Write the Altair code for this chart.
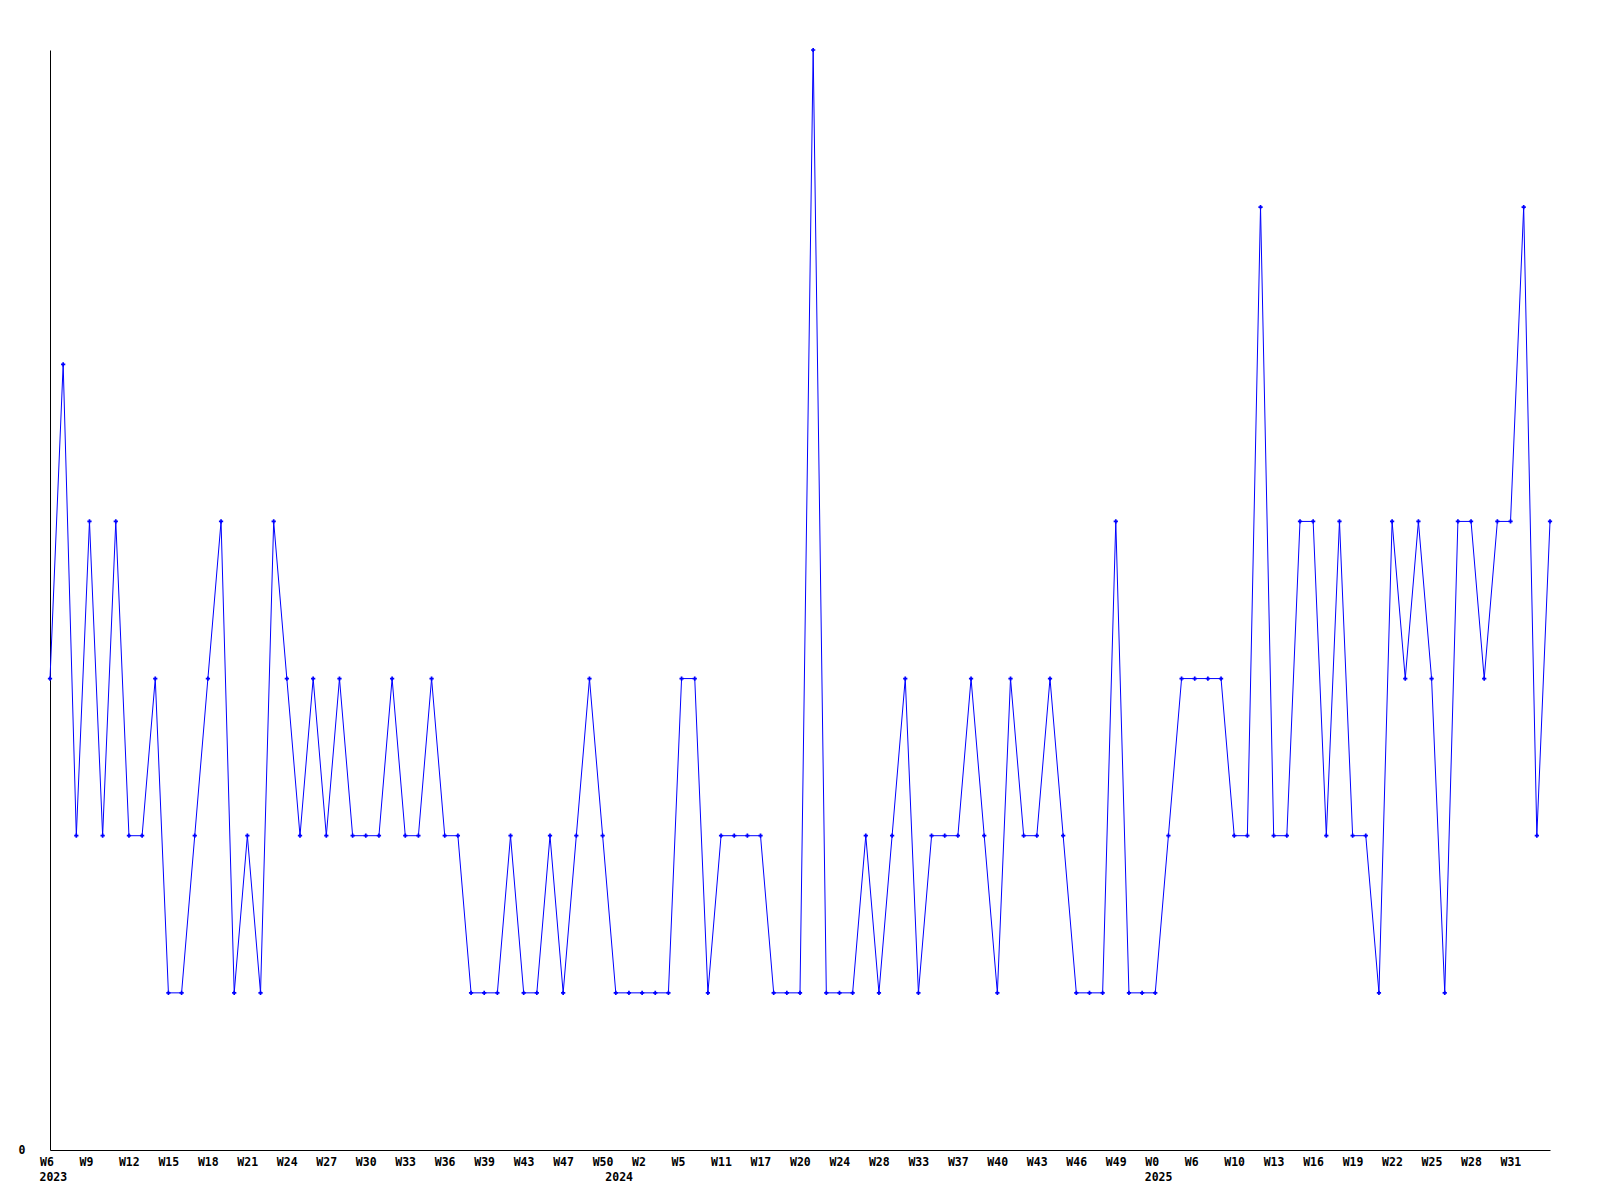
import altair as alt
import pandas as pd

# Series values, one per week shown on the axis (115 points)
values = [
    3, 5, 2, 4, 2, 4, 2, 2, 3, 1,
    1, 2, 3, 4, 1, 2, 1, 4, 3, 2,
    3, 2, 3, 2, 2, 2, 3, 2, 2, 3,
    2, 2, 1, 1, 1, 2, 1, 1, 2, 1,
    2, 3, 2, 1, 1, 1, 1, 1, 3, 3,
    1, 2, 2, 2, 2, 1, 1, 1, 7, 1,
    1, 1, 2, 1, 2, 3, 1, 2, 2, 2,
    3, 2, 1, 3, 2, 2, 3, 2, 1, 1,
    1, 4, 1, 1, 1, 2, 3, 3, 3, 3,
    2, 2, 6, 2, 2, 4, 4, 2, 4, 2,
    2, 1, 4, 3, 4, 3, 1, 4, 4, 3,
    4, 4, 6, 2, 4,
]

# Tick labels, one every third point
tick_labels = [
    "W6", "W9", "W12", "W15", "W18", "W21", "W24", "W27", "W30", "W33",
    "W36", "W39", "W43", "W47", "W50", "W2", "W5", "W11", "W17", "W20",
    "W24", "W28", "W33", "W37", "W40", "W43", "W46", "W49", "W0", "W6",
    "W10", "W13", "W16", "W19", "W22", "W25", "W28", "W31",
]
tick_step = 3

# Year labels and the point index where each year starts
year_labels = ["2023", "2024", "2025"]
year_index = [0, 43, 84]

FONT = "DejaVu Sans Mono"
W, H = 1500, 1100

df = pd.DataFrame({"idx": list(range(len(values))), "value": values})
years = pd.DataFrame({"idx": year_index, "year": year_labels})

label_array = "[" + ",".join("'" + t + "'" for t in tick_labels) + "]"
label_expr = label_array + "[round(datum.value / %d)]" % tick_step

x_scale = alt.Scale(domain=[0, len(values) - 1], nice=False, zero=False)
y_scale = alt.Scale(domain=[0, 7], nice=False, zero=True)

x_axis = alt.Axis(
    values=list(range(0, len(tick_labels) * tick_step, tick_step)),
    labelExpr=label_expr,
    title=None,
    grid=False,
    ticks=False,
    tickSize=0,
    domainColor="black",
    domainWidth=1,
    labelFont=FONT,
    labelFontWeight="bold",
    labelFontSize=11.5,
    labelColor="black",
    labelAlign="left",
    labelOffset=-10.5,
    labelPadding=6,
    labelFlush=False,
    labelOverlap=False,
    labelBound=False,
)
y_axis = alt.Axis(
    values=[0],
    format="d",
    title=None,
    grid=False,
    ticks=False,
    tickSize=0,
    domainColor="black",
    domainWidth=1,
    labelFont=FONT,
    labelFontWeight="bold",
    labelFontSize=11.5,
    labelColor="black",
    labelPadding=25,
    labelOverlap=False,
)

base = alt.Chart(df)

line = base.mark_line(color="#0000FF", strokeWidth=1, clip=False).encode(
    x=alt.X("idx:Q", scale=x_scale, axis=x_axis),
    y=alt.Y("value:Q", scale=y_scale, axis=y_axis),
)
pts = base.mark_point(
    shape="cross", filled=True, color="#0000FF", size=18, opacity=1
).encode(
    x=alt.X("idx:Q", scale=x_scale),
    y=alt.Y("value:Q", scale=y_scale),
)
year_text = alt.Chart(years).mark_text(
    font=FONT, fontWeight="bold", fontSize=11.5, color="black",
    align="left", baseline="alphabetic", dx=-10.5,
).encode(
    x=alt.X("idx:Q", scale=x_scale),
    y=alt.value(H + 31),
    text="year:N",
)

chart = (
    alt.layer(line, pts, year_text)
    .properties(
        width=W,
        height=H,
        autosize=alt.AutoSizeParams(type="none"),
        padding={"left": 42, "top": 42, "right": 20, "bottom": 50},
        background="white",
    )
    .configure_view(stroke=None)
)

chart.save("out.html", embed_options={"renderer": "svg", "actions": False})
